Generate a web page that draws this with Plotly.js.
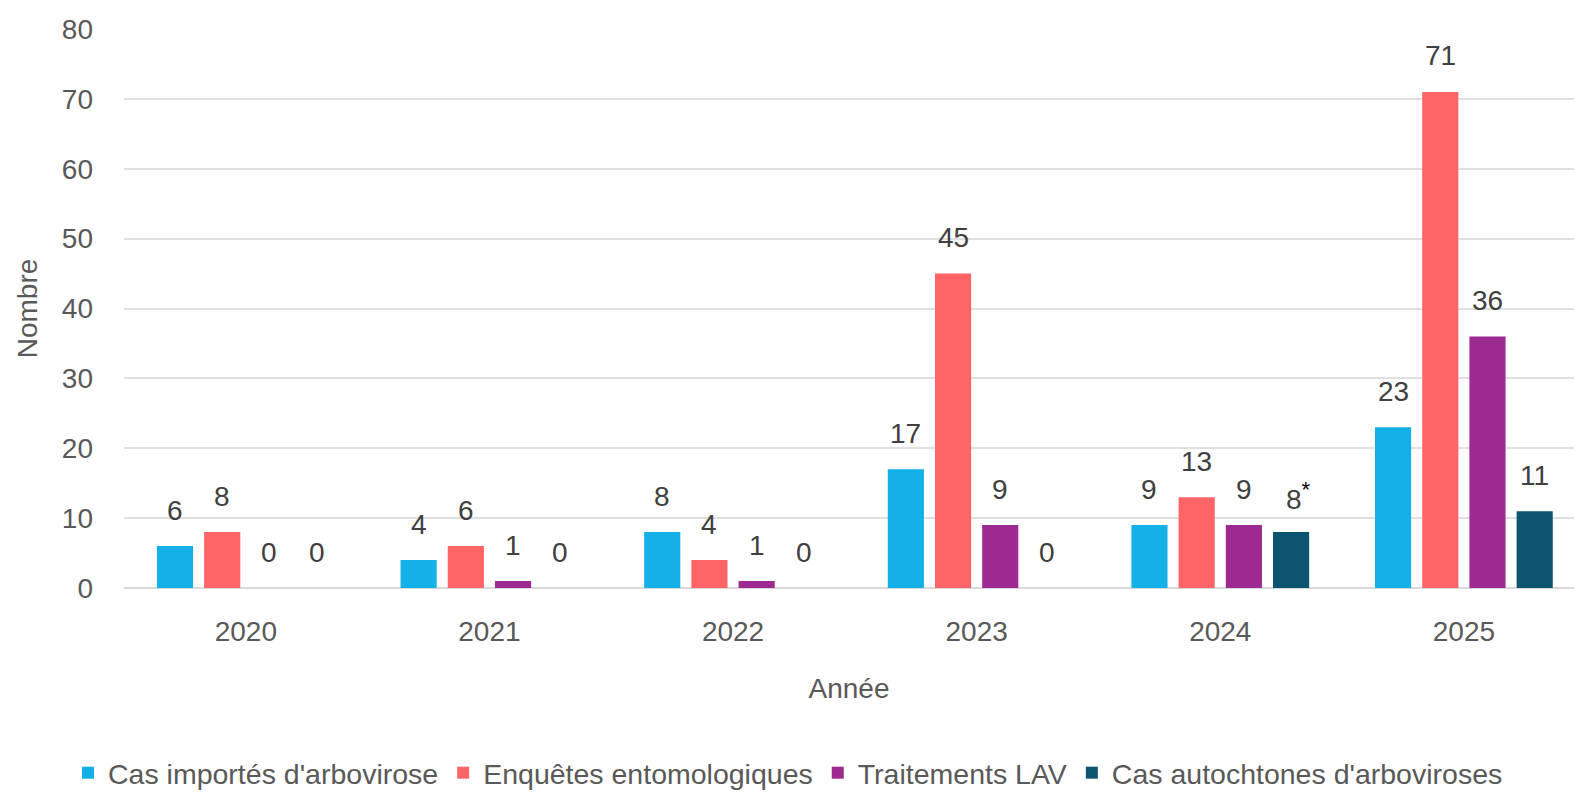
<!DOCTYPE html>
<html>
<head>
<meta charset="utf-8">
<script src="https://cdn.plot.ly/plotly-3.0.1.min.js"></script>
<style>
  html, body { margin: 0; padding: 0; background: #ffffff; }
  #chart { width: 1576px; height: 793px; }
</style>
</head>
<body>
<div id="chart"></div>
<script>
const years = ["2020", "2021", "2022", "2023", "2024", "2025"];
const casImportes = [6, 4, 8, 17, 9, 23];
const enquetes = [8, 6, 4, 45, 13, 71];
const traitements = [0, 1, 1, 9, 9, 36];
const casAutochtones = [0, 0, 0, 0, 8, 11];
const seriesNames = [
  "Cas importés d'arbovirose",
  "Enquêtes entomologiques",
  "Traitements LAV",
  "Cas autochtones d'arboviroses"
];
const seriesColors = ["#14b0e8", "#ff6466", "#9c2a90", "#0d5471"];
const yTicks = [0, 10, 20, 30, 40, 50, 60, 70, 80];
// footnote marker for 2024 autochthonous cases
const footnotes = { 3: { 4: "*" } };

const allSeries = [casImportes, enquetes, traitements, casAutochtones];
const FONT = "Liberation Sans, Arial, sans-serif";
const bargap = 0.225;
const slot = (1 - bargap) / allSeries.length;

const traces = allSeries.map((vals, j) => ({
  type: "bar",
  name: seriesNames[j],
  x: years,
  y: vals,
  marker: { color: seriesColors[j], line: { width: 0 } },
  hoverinfo: "x+y+name"
}));

const annotations = [];
allSeries.forEach((vals, j) => {
  vals.forEach((v, i) => {
    const note = footnotes[j] && footnotes[j][i];
    annotations.push({
      xref: "x", yref: "y",
      x: i + (j - (allSeries.length - 1) / 2) * slot,
      y: v,
      text: note ? v + "<sup><span style='color:#000000;font-size:22px'>" + note + "</span></sup>" : String(v),
      showarrow: false,
      xanchor: "center", yanchor: "middle",
      yshift: 36,
      xshift: note ? 7 : 0,
      font: { family: FONT, size: 28, color: "#404040" }
    });
  });
});

const layout = {
  width: 1576, height: 793,
  paper_bgcolor: "#ffffff", plot_bgcolor: "#ffffff",
  margin: { l: 124, r: 2, t: 29, b: 205 },
  barmode: "group",
  bargap: bargap,
  bargroupgap: 0.234,
  font: { family: FONT, size: 28, color: "#595959" },
  xaxis: {
    type: "category",
    range: [-0.5, 5.452],
    showgrid: false,
    showline: false,
    zeroline: false,
    ticks: "",
    tickfont: { family: FONT, size: 28, color: "#595959" },
    ticklabelstandoff: 24,
    title: { text: "Année", font: { family: FONT, size: 28, color: "#595959" }, standoff: 32 }
  },
  yaxis: {
    range: [0, 80],
    tickvals: yTicks,
    ticktext: yTicks.map(String),
    showgrid: true,
    gridcolor: "#e0e0e0",
    gridwidth: 2,
    zeroline: true,
    zerolinecolor: "#d9d9d9",
    zerolinewidth: 2,
    showline: false,
    ticks: "",
    tickfont: { family: FONT, size: 28, color: "#595959" },
    ticklabelstandoff: 30,
    title: { text: "Nombre", font: { family: FONT, size: 28, color: "#595959" }, standoff: 16 }
  },
  legend: {
    orientation: "h",
    xref: "container", yref: "container",
    x: 0.5, xanchor: "center",
    y: 0.025, yanchor: "middle",
    font: { family: FONT, size: 28.5, color: "#595959" },
    itemwidth: 30,
    tracegroupgap: 0
  },
  annotations: annotations,
  showlegend: true
};

Plotly.newPlot("chart", traces, layout, { displayModeBar: false, responsive: false });
</script>
</body>
</html>
